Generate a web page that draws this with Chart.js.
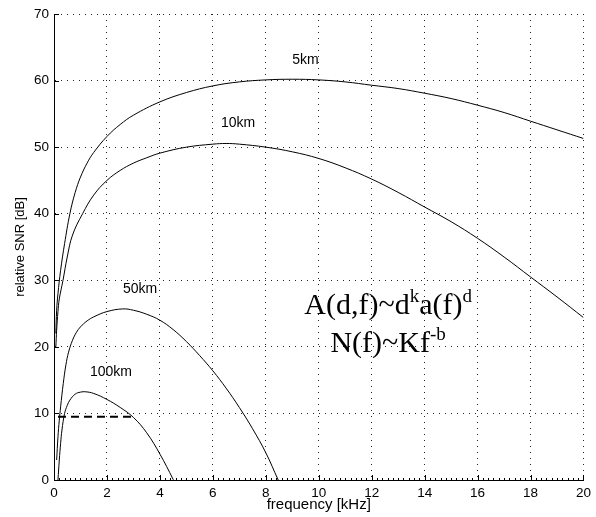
<!DOCTYPE html>
<html>
<head>
<meta charset="utf-8">
<script src="https://cdn.jsdelivr.net/npm/chart.js@4"></script>
<style>
  body { margin: 0; background: #fff; }
  #wrap { width: 596px; height: 517px; }
</style>
</head>
<body>
<div id="wrap"><canvas id="snrChart" width="596" height="517"></canvas></div>
<script>
// Relative SNR vs frequency for several distances

const freq5km = [0.07, 0.1, 0.15, 0.25, 0.4, 0.6, 0.8, 1, 1.25, 1.5, 2, 2.5, 3, 4, 5, 6, 7, 8, 9, 10, 11, 12, 13, 14, 15, 16, 17, 18, 19, 20];
const snr5km  = [22, 25.5, 28, 31.5, 35.5, 40, 43.2, 45.5, 47.6, 49.2, 51.6, 53.4, 54.8, 56.8, 58.2, 59.2, 59.8, 60.1, 60.2, 60.1, 59.8, 59.3, 58.8, 58.1, 57.3, 56.3, 55.2, 53.9, 52.6, 51.3];

const freq10km = [0.07, 0.1, 0.15, 0.2, 0.34, 0.5, 0.7, 1.08, 1.5, 2, 2.5, 3, 3.5, 4, 5, 6, 6.5, 7, 8, 9, 10, 11, 12, 13, 14, 15, 16, 17, 18, 19, 20];
const snr10km  = [20, 22.5, 25.3, 27.2, 30, 33.5, 36.8, 40, 42.8, 45, 46.5, 47.6, 48.4, 49.1, 50.0, 50.45, 50.55, 50.45, 50.0, 49.3, 48.3, 46.9, 45.2, 43.2, 41.0, 38.8, 36.3, 33.5, 30.5, 27.5, 24.4];

const freq50km = [0.1, 0.15, 0.2, 0.25, 0.35, 0.45, 0.55, 0.7, 0.85, 1, 1.25, 1.5, 2, 2.6, 3, 3.5, 4, 4.5, 5, 5.5, 6, 6.5, 7, 7.5, 8, 8.47, 8.6];
const snr50km  = [3, 6.5, 9, 11, 14.5, 17.3, 19.2, 21.0, 22.2, 23, 23.9, 24.5, 25.3, 25.7, 25.5, 24.9, 24.0, 22.6, 20.8, 18.7, 16.4, 13.8, 10.9, 7.7, 4.1, 0, -1];

const freq100km = [0.13, 0.15, 0.2, 0.25, 0.3, 0.4, 0.5, 0.6, 0.8, 1, 1.2, 1.5, 2, 2.5, 3, 3.5, 4, 4.5, 4.6];
const snr100km  = [-1, 0, 3, 5.5, 7.5, 10, 11.2, 12.0, 12.9, 13.2, 13.25, 13.0, 12.1, 10.9, 9.4, 7.1, 3.9, 0.1, -0.8];

// threshold line
const threshFreq = [0.15, 3.0];
const threshSnr  = [9.5, 9.5];

const xTicks = [0, 2, 4, 6, 8, 10, 12, 14, 16, 18, 20];
const yTicks = [0, 10, 20, 30, 40, 50, 60, 70];

// curve labels: [text, freq, snr]
const curveLabels = [
    ['5km', 9.5, 63.1],
    ['10km', 6.95, 53.6],
    ['50km', 3.25, 28.7],
    ['100km', 2.15, 16.2]
];

const sansFont = 'Liberation Sans, Arial, Helvetica, sans-serif';
const serifFont = 'Liberation Serif, Times New Roman, serif';

function toPoints(xs, ys) {
    return xs.map((x, i) => ({ x: x, y: ys[i] }));
}

function curve(xs, ys) {
    return {
        data: toPoints(xs, ys),
        borderColor: '#000',
        borderWidth: 1,
        pointRadius: 0,
        fill: false,
        tension: 0.4
    };
}

// draws inside ticks, labels, formula and axis titles
const extrasPlugin = {
    id: 'extras',
    afterDatasetsDraw(chart) {
        const ctx = chart.ctx;
        const xs = chart.scales.x;
        const ys = chart.scales.y;
        const area = chart.chartArea;

        ctx.save();
        ctx.strokeStyle = '#000';
        ctx.lineWidth = 1;
        ctx.beginPath();
        xTicks.forEach(v => {
            const px = Math.round(xs.getPixelForValue(v)) + 0.5;
            ctx.moveTo(px, area.bottom);
            ctx.lineTo(px, area.bottom - 5);
        });
        for (let v = 0.2; v < 20; v += 0.2) {
            const px = Math.round(xs.getPixelForValue(v)) + 0.5;
            ctx.moveTo(px, area.bottom);
            ctx.lineTo(px, area.bottom - 2);
        }
        yTicks.forEach(v => {
            const py = Math.round(ys.getPixelForValue(v)) + 0.5;
            ctx.moveTo(area.left, py);
            ctx.lineTo(area.left + 5, py);
        });
        ctx.stroke();

        // curve labels
        ctx.fillStyle = '#000';
        ctx.font = '14px ' + sansFont;
        ctx.textAlign = 'center';
        ctx.textBaseline = 'middle';
        curveLabels.forEach(l => {
            ctx.fillText(l[0], xs.getPixelForValue(l[1]), ys.getPixelForValue(l[2]));
        });

        // formula
        const cx = xs.getPixelForValue(12.62);
        drawRich(ctx, [['A(d,f)~d', 0], ['k', 1], ['a(f)', 0], ['d', 1]], cx, ys.getPixelForValue(24.9));
        drawRich(ctx, [['N(f)~Kf', 0], ['-b', 1]], cx, ys.getPixelForValue(19.3));

        // axis titles
        ctx.font = '15px ' + sansFont;
        ctx.textAlign = 'center';
        ctx.textBaseline = 'middle';
        ctx.fillText('frequency [kHz]', (area.left + area.right) / 2, 505);
        ctx.save();
        ctx.translate(20, ys.getPixelForValue(35));
        ctx.rotate(-Math.PI / 2);
        ctx.font = '13px ' + sansFont;
        ctx.fillText('relative SNR [dB]', 0, 0);
        ctx.restore();

        ctx.restore();
    }
};

function drawRich(ctx, parts, cx, baseline) {
    const mainFont = '30px ' + serifFont;
    const supFont = '19px ' + serifFont;
    let total = 0;
    parts.forEach(p => {
        ctx.font = p[1] ? supFont : mainFont;
        total += ctx.measureText(p[0]).width;
    });
    let x = cx - total / 2;
    ctx.textAlign = 'left';
    ctx.textBaseline = 'alphabetic';
    parts.forEach(p => {
        ctx.font = p[1] ? supFont : mainFont;
        ctx.fillText(p[0], x, p[1] ? baseline - 12 : baseline);
        x += ctx.measureText(p[0]).width;
    });
}

document.addEventListener('DOMContentLoaded', function() {
    const ctx = document.getElementById('snrChart');

    const dashed = {
        data: toPoints(threshFreq, threshSnr),
        borderColor: '#000',
        borderWidth: 2,
        borderDash: [8, 5],
        pointRadius: 0,
        fill: false
    };

    new Chart(ctx, {
        type: 'line',
        data: {
            datasets: [
                curve(freq5km, snr5km),
                curve(freq10km, snr10km),
                curve(freq50km, snr50km),
                curve(freq100km, snr100km),
                dashed
            ]
        },
        options: {
            responsive: false,
            animation: false,
            layout: {
                padding: { top: 14, right: 7, left: 0, bottom: 0 }
            },
            plugins: {
                legend: { display: false },
                tooltip: { enabled: false }
            },
            scales: {
                x: {
                    type: 'linear',
                    min: 0,
                    max: 20,
                    afterFit: s => { s.height = 37; },
                    ticks: {
                        stepSize: 2,
                        color: '#000',
                        padding: 5,
                        maxRotation: 0,
                        font: { family: sansFont, size: 13.5 }
                    },
                    grid: { color: '#222', lineWidth: 1, drawTicks: false },
                    border: { display: true, color: '#000', width: 1, dash: [1, 5] }
                },
                y: {
                    type: 'linear',
                    min: 0,
                    max: 70,
                    afterFit: s => { s.width = 54; },
                    ticks: {
                        stepSize: 10,
                        color: '#000',
                        padding: 5,
                        font: { family: sansFont, size: 13.5 }
                    },
                    grid: { color: '#222', lineWidth: 1, drawTicks: false },
                    border: { display: true, color: '#000', width: 1, dash: [1, 5] }
                }
            }
        },
        plugins: [extrasPlugin]
    });
});
</script>
</body>
</html>
